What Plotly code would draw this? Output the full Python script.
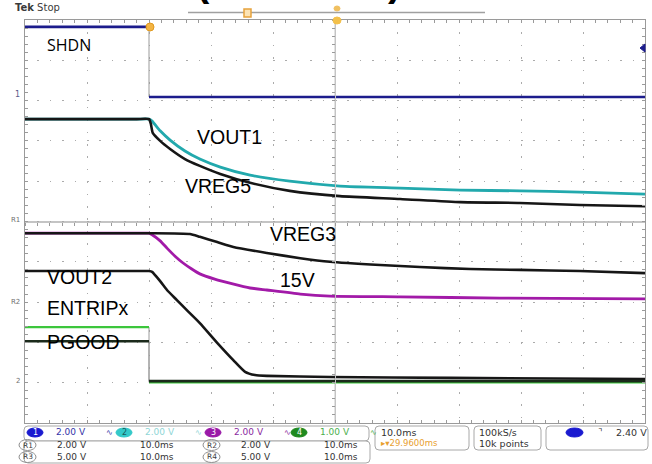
import plotly.graph_objects as go

# ---- Waveform data: time in ms (10 ms/div, trigger at 0), level in screen divisions ----
time_shdn = [-20, 0, 0, 80]
shdn = [4.83, 4.83, 3.09, 3.09]

time_vout1 = [-20, -2, 0, 0.5, 1.8, 3.4, 5.8, 8.2, 11.5, 16.3, 22.7, 30.8, 40.5, 50.2, 59.8, 69.5, 80]
vout1 = [2.54, 2.54, 2.54, 2.49, 2.25, 2.02, 1.75, 1.55, 1.35, 1.15, 1.00, 0.88, 0.83, 0.78, 0.76, 0.73, 0.68]

time_vreg5 = [-20, -2, 0, 0.3, 0.6, 1.8, 3.4, 5.8, 8.2, 11.5, 16.3, 22.7, 30.8, 40.5, 50.2, 59.8, 69.5, 80]
vreg5 = [2.54, 2.54, 2.54, 2.42, 2.20, 2.00, 1.80, 1.55, 1.38, 1.18, 0.96, 0.76, 0.63, 0.56, 0.48, 0.46, 0.41, 0.38]

time_vreg3 = [-20, 0, 6.6, 8.2, 11.0, 13.6, 19.0, 24.4, 29.2, 37.3, 43.7, 51.8, 59.8, 69.5, 80]
vreg3 = [-0.29, -0.29, -0.31, -0.38, -0.51, -0.63, -0.78, -0.91, -1.00, -1.08, -1.13, -1.18, -1.20, -1.23, -1.28]

time_15v = [-20, -2, 0, 0.5, 1.8, 2.9, 4.2, 5.5, 6.9, 8.2, 10.6, 13.5, 16.3, 19.0, 24.4, 29.2, 40.5, 56.6, 80]
v15 = [-0.29, -0.29, -0.29, -0.33, -0.48, -0.66, -0.86, -1.03, -1.18, -1.30, -1.43, -1.55, -1.65, -1.70, -1.80, -1.85, -1.87, -1.90, -1.92]

time_vout2 = [-20, -2, 0, 0.5, 1.8, 2.9, 4.5, 6.1, 8.2, 11.0, 13.6, 15.5, 17.1, 19.0, 29.2, 48.6, 80]
vout2 = [-1.23, -1.23, -1.23, -1.25, -1.48, -1.70, -1.95, -2.20, -2.52, -3.01, -3.44, -3.73, -3.81, -3.83, -3.86, -3.88, -3.91]

time_entrip = [-20, 0, 0, 80]
entrip = [-2.62, -2.62, -3.99, -3.99]

time_pgood = [-20, 0, 0, 80]
pgood = [-2.97, -2.97, -3.96, -3.96]

# ---- Labels ----
labels = ["SHDN", "VOUT1", "VREG5", "VREG3", "15V", "VOUT2", "ENTRIPx", "PGOOD"]
label_t = [-16.8, 7.4, 5.5, 19.2, 20.8, -16.8, -16.8, -16.8]
label_v = [4.38, 2.10, 0.88, -0.31, -1.45, -1.38, -2.15, -2.99]

# readout texts
ch_scales = ["2.00 V", "2.00 V", "2.00 V", "1.00 V"]
ref_names = ["R1", "R2", "R3", "R4"]
ref_scales = ["2.00 V", "2.00 V", "5.00 V", "5.00 V"]
ref_times = ["10.0ms", "10.0ms", "10.0ms", "10.0ms"]
timebase = "10.0ms"
delay = "29.9600ms"
sample_rate = "100kS/s"
record_len = "10k points"
trig_level = "2.40 V"

# ---- Layout geometry (pixels) ----
W, H = 652, 464
L, R, T, B = 25, 7, 20, 41
PW, PH = W - L - R, H - T - B
X_RANGE = [-20, 80]
Y_RANGE = [-5, 5]


def px(x):
    return (x - L) / PW


def py(y):
    return (H - B - y) / PH


NAVY = "#1c1c8c"
TEAL = "#22a9ad"
BLACK = "#161616"
MAGENTA = "#a21aa8"
GREEN = "#3cc63c"
GRID = "#ababab"
TICK = "#9a9a9a"


def split_steps(t, v):
    """Break a trace at vertical edges so the edge can be drawn thin."""
    xs, ys = [t[0]], [v[0]]
    for i in range(1, len(t)):
        if t[i] == t[i - 1]:
            xs.append(None)
            ys.append(None)
        xs.append(t[i])
        ys.append(v[i])
    return xs, ys


fig = go.Figure()


def add_line(t, v, color, width=2.6, smooth=False):
    line = dict(color=color, width=width)
    if smooth:
        line.update(shape="spline", smoothing=0.5)
    fig.add_trace(go.Scatter(x=t, y=v, mode="lines", line=line,
                             hoverinfo="skip", showlegend=False))


def add_step(t, v, color, width=2.6):
    add_line(t, v, "#9a9a9a", 1)
    xs, ys = split_steps(t, v)
    add_line(xs, ys, color, width)


# traces
add_step(time_shdn, shdn, NAVY)
add_line(time_vout1, vout1, TEAL, 2.8, smooth=True)
add_line(time_vreg5, vreg5, BLACK, smooth=True)
add_line(time_15v, v15, MAGENTA, 2.8, smooth=True)
add_line(time_vreg3, vreg3, BLACK, smooth=True)
add_line(time_vout2, vout2, BLACK, smooth=True)
add_step(time_entrip, entrip, GREEN, 2.2)
add_step(time_pgood, pgood, "#1b2a1b", 2.6)

# centre cross axes carry a dummy trace each so they render
fig.add_trace(go.Scatter(x=[None], y=[None], xaxis="x2", yaxis="y", showlegend=False, hoverinfo="skip"))
fig.add_trace(go.Scatter(x=[None], y=[None], xaxis="x", yaxis="y2", showlegend=False, hoverinfo="skip"))

axis_common = dict(showticklabels=False, zeroline=False, ticklen=3, tickcolor=TICK)
fig.update_layout(
    width=W, height=H,
    margin=dict(l=L, r=R, t=T, b=B),
    paper_bgcolor="white", plot_bgcolor="white",
    showlegend=False,
    xaxis=dict(range=X_RANGE, dtick=10, showgrid=True, gridcolor=GRID, griddash="1.5px,10.9px",
               showline=True, linecolor="#9a9a9a", mirror="allticks", ticks="inside",
               minor=dict(dtick=2, ticks="inside", ticklen=3, tickcolor=TICK, showgrid=False),
               **axis_common),
    yaxis=dict(range=Y_RANGE, dtick=1, showgrid=True, gridcolor=GRID, griddash="1.5px,10.9px",
               showline=True, linecolor="#9a9a9a", mirror="allticks", ticks="inside",
               minor=dict(dtick=0.2, ticks="inside", ticklen=3, tickcolor=TICK, showgrid=False),
               **axis_common),
    xaxis2=dict(range=X_RANGE, overlaying="x", anchor="free", position=0.5, showline=True,
                linecolor="#c4c4c4", showgrid=False, ticks="outside", dtick=2, mirror=False,
                **axis_common),
    yaxis2=dict(range=Y_RANGE, overlaying="y", anchor="free", position=0.5, showline=True,
                linecolor="#c4c4c4", showgrid=False, ticks="outside", dtick=0.2, mirror=False,
                **axis_common),
)

ann = []
# waveform labels
for txt, t, v in zip(labels, label_t, label_v):
    family = "Open Sans" if txt == "SHDN" else "Liberation Sans"
    size = 16 if txt == "SHDN" else 19.5
    ann.append(dict(x=t, y=v, xref="x", yref="y", text=txt, showarrow=False, xanchor="left",
                    yanchor="middle", font=dict(family=family, size=size, color="black")))


def ptext(x, y, text, size=9, color="#333333", anchor="left", family="DejaVu Sans"):
    ann.append(dict(x=px(x), y=py(y), xref="paper", yref="paper", text=text, showarrow=False,
                    xanchor=anchor, yanchor="middle", font=dict(family=family, size=size, color=color)))


# header: title line runs off the top of the screen
ptext(13, 8, "<b>Tek</b> Stop", size=10, color="#3a3a3a")
ann.append(dict(x=px(203), y=py(5.5), xref="paper", yref="paper", text="<b>(</b>", showarrow=False,
                xanchor="center", yanchor="bottom", font=dict(family="Liberation Sans", size=40, color="black")))
ann.append(dict(x=px(394), y=py(5.5), xref="paper", yref="paper", text="<b>)</b>", showarrow=False,
                xanchor="center", yanchor="bottom", font=dict(family="Liberation Sans", size=40, color="black")))

# channel markers at the left edge
ptext(22, 95, "1", size=8, color="#5a5a8a", anchor="right")
ptext(22, 220, "R1", size=7, color="#707070", anchor="right")
ptext(22, 302, "R2", size=7, color="#707070", anchor="right")
ptext(22, 381, "2", size=7, color="#707070", anchor="right")

shapes = []

# centre cross of the graticule
shapes.append(dict(type="line", xref="paper", yref="paper", x0=0, x1=1, y0=0.5, y1=0.5,
                   line=dict(color="#c4c4c4", width=1), layer="below"))
shapes.append(dict(type="line", xref="paper", yref="paper", x0=0.5, x1=0.5, y0=0, y1=1,
                   line=dict(color="#c4c4c4", width=1), layer="below"))


def rrect(x0, y0, x1, y1, r=4, color="#a8a8a8"):
    path = (f"M {px(x0 + r)},{py(y0)} L {px(x1 - r)},{py(y0)} Q {px(x1)},{py(y0)} {px(x1)},{py(y0 + r)} "
            f"L {px(x1)},{py(y1 - r)} Q {px(x1)},{py(y1)} {px(x1 - r)},{py(y1)} "
            f"L {px(x0 + r)},{py(y1)} Q {px(x0)},{py(y1)} {px(x0)},{py(y1 - r)} "
            f"L {px(x0)},{py(y0 + r)} Q {px(x0)},{py(y0)} {px(x0 + r)},{py(y0)} Z")
    shapes.append(dict(type="path", path=path, xref="paper", yref="paper",
                       line=dict(color=color, width=1), fillcolor="white", layer="above"))


def oval(x0, y0, x1, y1, fill, line=None):
    shapes.append(dict(type="circle", xref="paper", yref="paper", x0=px(x0), x1=px(x1),
                       y0=py(y1), y1=py(y0), fillcolor=fill,
                       line=dict(color=line or fill, width=1), layer="above"))


# record bar and markers at the top
shapes.append(dict(type="line", xref="paper", yref="paper", x0=px(188), x1=px(485), y0=py(12.5), y1=py(12.5),
                   line=dict(color="#a0a0a0", width=1.5), layer="above"))
shapes.append(dict(type="rect", xref="paper", yref="paper", x0=px(244), x1=px(251), y0=py(17), y1=py(9),
                   line=dict(color="#e6a23c", width=1.5), fillcolor="#fbe3b5", layer="above"))
oval(334, 6, 340, 11, "#f0c060")
oval(333, 17, 341, 24, "#f3c04a")
oval(146, 23, 154, 31, "#f3b443", "#e09a20")
# trigger level marker on the right edge
shapes.append(dict(type="path", xref="paper", yref="paper",
                   path=f"M {px(640)},{py(48)} L {px(645)},{py(44)} L {px(645)},{py(52)} Z",
                   fillcolor=NAVY, line=dict(color=NAVY, width=1), layer="above"))

# status bar boxes
rrect(24, 426, 369, 441)
rrect(24, 441, 370, 463)
rrect(375, 426, 469, 450)
rrect(474, 426, 541, 450)
rrect(546, 426, 648, 450)

# channel readouts row
ch_colors = ["#1a1ad0", "#33c9c9", "#9a1aa8", "#1f8a1f"]
ch_text_colors = ["#3434a8", "#8fd6d6", "#8a2aa0", "#4caf4c"]
ch_x = [27, 116, 205, 291]
for i in range(4):
    x0 = ch_x[i]
    oval(x0, 428, x0 + 16, 437, ch_colors[i])
    ptext(x0 + 8, 432.5, str(i + 1), size=8, color="#ffffff" if i != 1 else "#1a5a5a", anchor="center")
    ptext(x0 + 27, 432, ch_scales[i], size=9, color=ch_text_colors[i])
    ptext(x0 + 77, 432, "∿", size=8, color=ch_text_colors[i])

# reference readouts
ref_x = [19, 203, 19, 203]
ref_y = [445, 445, 457, 457]
for i in range(4):
    x0, y0 = ref_x[i], ref_y[i]
    shapes.append(dict(type="circle", xref="paper", yref="paper", x0=px(x0), x1=px(x0 + 17),
                       y0=py(y0 + 5.5), y1=py(y0 - 5.5), line=dict(color="#909090", width=1),
                       layer="above"))
    ptext(x0 + 8.5, y0, ref_names[i], size=7.5, color="#404040", anchor="center")
    ptext(x0 + 36, y0, ref_scales[i], size=9)
    ptext(x0 + 119, y0, ref_times[i], size=9)

# timebase / acquisition / trigger boxes
ptext(379, 432, timebase, size=9.5)
ptext(379, 443, "▸▾" + delay, size=8.5, color="#e8a030")
ptext(477, 432, sample_rate, size=9.5)
ptext(477, 443, record_len, size=9.5)
oval(566, 428, 583, 437, "#1a1ad0")
ptext(600, 432, "⌝", size=9, color="#333333", anchor="center")
ptext(614, 432, trig_level, size=9.5)

fig.update_layout(shapes=shapes, annotations=ann)
fig.write_html("out.html")
